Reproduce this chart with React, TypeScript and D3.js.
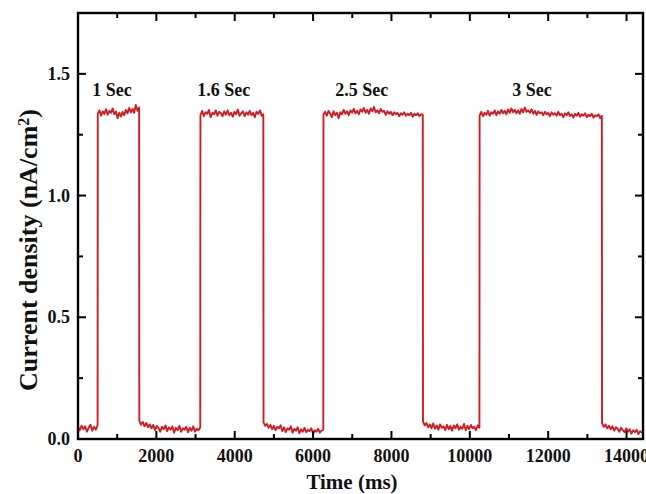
import { useRef, useEffect } from 'react';
import * as d3 from 'd3';

// pulse segments: [start ms, end ms], readings sampled evenly across the span
const segTimes: [number, number][] = [
  [0, 500], [505, 1560], [1565, 3120], [3125, 4730], [4735, 6260],
  [6265, 8800], [8805, 10245], [10250, 13370], [13375, 14390],
];

const base0 = [0.048, 0.036, 0.055, 0.040, 0.052, 0.030, 0.047, 0.058, 0.034, 0.050, 0.038, 0.056];
const high1 = [1.336, 1.350, 1.328, 1.346, 1.335, 1.355, 1.332, 1.348, 1.340, 1.358, 1.334, 1.345, 1.318, 1.340, 1.325, 1.344, 1.330, 1.352, 1.338, 1.360, 1.342, 1.356, 1.340, 1.372, 1.348, 1.362];
const base1 = [0.075, 0.058, 0.070, 0.052, 0.066, 0.048, 0.060, 0.044, 0.058, 0.036, 0.054, 0.046, 0.030, 0.050, 0.040, 0.056, 0.032, 0.048, 0.038, 0.052, 0.026, 0.046, 0.036, 0.054, 0.030, 0.044, 0.038, 0.050, 0.028, 0.046, 0.034, 0.052, 0.030, 0.042, 0.036, 0.048];
const high2 = [1.330, 1.348, 1.326, 1.342, 1.336, 1.352, 1.322, 1.340, 1.334, 1.350, 1.328, 1.344, 1.338, 1.326, 1.346, 1.332, 1.350, 1.330, 1.340, 1.324, 1.344, 1.334, 1.354, 1.328, 1.338, 1.346, 1.326, 1.342, 1.332, 1.348, 1.330, 1.340, 1.322, 1.344, 1.336, 1.350, 1.328, 1.334];
const base2 = [0.068, 0.054, 0.062, 0.046, 0.058, 0.040, 0.054, 0.036, 0.050, 0.044, 0.056, 0.032, 0.048, 0.028, 0.044, 0.038, 0.052, 0.026, 0.042, 0.034, 0.048, 0.024, 0.040, 0.030, 0.046, 0.028, 0.038, 0.032, 0.044, 0.022, 0.036, 0.030, 0.042, 0.026, 0.034, 0.038];
const high3 = [1.332, 1.344, 1.328, 1.348, 1.336, 1.322, 1.346, 1.330, 1.340, 1.318, 1.342, 1.334, 1.352, 1.336, 1.346, 1.330, 1.350, 1.340, 1.356, 1.338, 1.348, 1.334, 1.354, 1.344, 1.360, 1.340, 1.352, 1.336, 1.358, 1.346, 1.364, 1.342, 1.350, 1.338, 1.356, 1.344, 1.348, 1.332, 1.346, 1.336, 1.344, 1.330, 1.342, 1.334, 1.340, 1.326, 1.338, 1.332, 1.342, 1.328, 1.336, 1.330, 1.340, 1.324, 1.336, 1.330, 1.338, 1.326, 1.334, 1.332];
const base3 = [0.072, 0.056, 0.066, 0.048, 0.060, 0.044, 0.064, 0.042, 0.056, 0.038, 0.060, 0.046, 0.052, 0.036, 0.058, 0.040, 0.054, 0.034, 0.056, 0.044, 0.060, 0.038, 0.050, 0.042, 0.062, 0.036, 0.054, 0.040, 0.058, 0.044, 0.050, 0.036, 0.056, 0.046];
const high4 = [1.328, 1.344, 1.326, 1.340, 1.332, 1.348, 1.328, 1.342, 1.336, 1.350, 1.330, 1.346, 1.336, 1.352, 1.338, 1.348, 1.334, 1.354, 1.340, 1.358, 1.342, 1.352, 1.338, 1.350, 1.336, 1.356, 1.342, 1.362, 1.344, 1.350, 1.340, 1.354, 1.336, 1.348, 1.332, 1.346, 1.338, 1.342, 1.330, 1.344, 1.334, 1.340, 1.326, 1.342, 1.332, 1.338, 1.328, 1.344, 1.330, 1.336, 1.322, 1.338, 1.330, 1.342, 1.326, 1.334, 1.320, 1.336, 1.328, 1.340, 1.324, 1.334, 1.328, 1.338, 1.322, 1.332, 1.326, 1.336, 1.320, 1.330, 1.326, 1.334, 1.318, 1.328];
const base4 = [0.064, 0.050, 0.060, 0.044, 0.054, 0.040, 0.052, 0.034, 0.048, 0.042, 0.030, 0.046, 0.036, 0.028, 0.044, 0.030, 0.040, 0.022, 0.036, 0.028, 0.038, 0.020, 0.032, 0.026];

const segValues = [base0, high1, base1, high2, base2, high3, base3, high4, base4];

const pulseLabels = ['1 Sec', '1.6 Sec', '2.5 Sec', '3 Sec'];
const labelTimes = [870, 3720, 7245, 11590];
const labelLevel = 1.41;

const xTicks = [0, 2000, 4000, 6000, 8000, 10000, 12000, 14000];
const yTicks = [0, 0.5, 1.0, 1.5];

const App = () => {
  const svgRef = useRef<SVGSVGElement>(null);

  useEffect(() => {
    const svg = d3.select(svgRef.current);
    svg.selectAll('*').remove();

    const W = 646, H = 494;
    const margin = { top: 13, right: 3, bottom: 55, left: 78 };
    const font = '"Times New Roman", "Liberation Serif", serif';

    const x = d3.scaleLinear().domain([0, 14420]).range([margin.left, W - margin.right]);
    const y = d3.scaleLinear().domain([0, 1.75]).range([H - margin.bottom, margin.top]);

    // flatten segments into one trace
    const data: { t: number; v: number }[] = [];
    segValues.forEach((vals, i) => {
      const [t0, t1] = segTimes[i];
      const step = (t1 - t0) / (vals.length - 1);
      vals.forEach((v, j) => data.push({ t: t0 + j * step, v }));
    });

    svg.append('rect').attr('width', W).attr('height', H).attr('fill', '#fff');

    const line = d3.line<{ t: number; v: number }>().x(d => x(d.t)).y(d => y(d.v));
    svg.append('path')
      .datum(data)
      .attr('d', line)
      .attr('fill', 'none')
      .attr('stroke', '#d01c24')
      .attr('stroke-width', 1.9)
      .attr('stroke-linejoin', 'round');

    const x0 = x.range()[0], x1 = x.range()[1];
    const y0 = y.range()[0], y1 = y.range()[1];

    // ticks, inward, on all four sides
    const xMinor = d3.range(1000, 14420, 2000);
    const yMinor = [0.25, 0.75, 1.25];
    const tk = svg.append('g').attr('stroke', '#000').attr('stroke-width', 2);
    const addX = (t: number, len: number) => {
      tk.append('line').attr('x1', x(t)).attr('x2', x(t)).attr('y1', y0).attr('y2', y0 - len);
      tk.append('line').attr('x1', x(t)).attr('x2', x(t)).attr('y1', y1).attr('y2', y1 + len);
    };
    const addY = (v: number, len: number) => {
      tk.append('line').attr('y1', y(v)).attr('y2', y(v)).attr('x1', x0).attr('x2', x0 + len);
      tk.append('line').attr('y1', y(v)).attr('y2', y(v)).attr('x1', x1).attr('x2', x1 - len);
    };
    xTicks.forEach(t => addX(t, 8));
    xMinor.forEach(t => addX(t, 5));
    yTicks.forEach(v => addY(v, 8));
    yMinor.forEach(v => addY(v, 5));

    svg.append('rect')
      .attr('x', x0).attr('y', y1)
      .attr('width', x1 - x0).attr('height', y0 - y1)
      .attr('fill', 'none').attr('stroke', '#000').attr('stroke-width', 2.4);

    const txt = svg.append('g')
      .attr('font-family', font)
      .attr('font-weight', 'bold')
      .attr('fill', '#111');

    txt.selectAll('.xl').data(xTicks).enter().append('text')
      .attr('x', d => x(d)).attr('y', y0 + 23)
      .attr('text-anchor', 'middle').attr('font-size', 18)
      .text(d => d);

    txt.selectAll('.yl').data(yTicks).enter().append('text')
      .attr('x', x0 - 8).attr('y', d => y(d) + 6)
      .attr('text-anchor', 'end').attr('font-size', 18)
      .text(d => d.toFixed(1));

    txt.selectAll('.pl').data(pulseLabels).enter().append('text')
      .attr('x', (d, i) => x(labelTimes[i])).attr('y', y(labelLevel))
      .attr('text-anchor', 'middle').attr('font-size', 18)
      .text(d => d);

    txt.append('text')
      .attr('x', 352).attr('y', H - 5)
      .attr('text-anchor', 'middle').attr('font-size', 21)
      .text('Time (ms)');

    const yt = txt.append('text')
      .attr('transform', `translate(37,250) rotate(-90)`)
      .attr('text-anchor', 'middle').attr('font-size', 26);
    yt.append('tspan').text('Current density (nA/cm');
    yt.append('tspan').attr('baseline-shift', 'super').attr('font-size', 16).text('2');
    yt.append('tspan').text(')');
  }, []);

  return (
    <svg ref={svgRef} width={646} height={494}
      style={{ position: 'absolute', left: 0, top: 0 }} />
  );
};

export default App;
